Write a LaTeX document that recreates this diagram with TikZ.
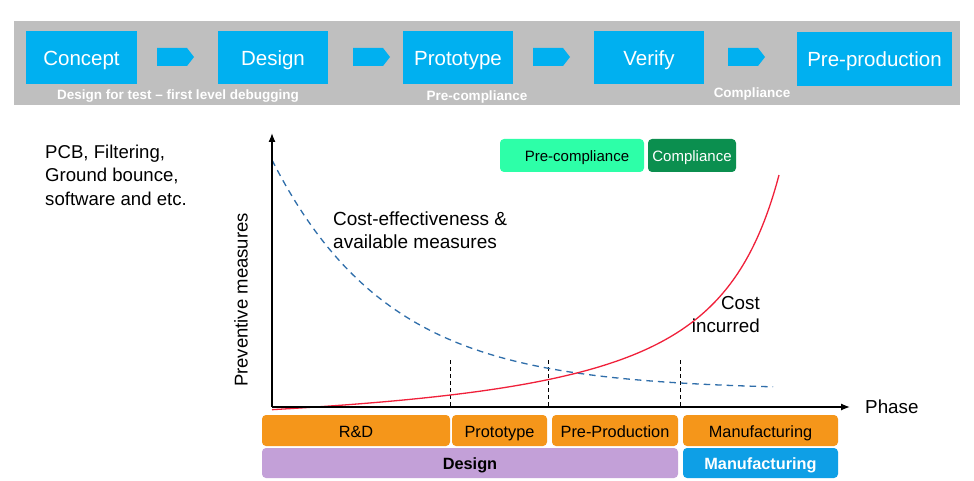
\documentclass[tikz,border=0pt]{standalone}
\usepackage{fontspec}
\setmainfont{Liberation Sans}
\usetikzlibrary{arrows.meta}
\definecolor{topblue}{HTML}{00B0F0}
\definecolor{bandgray}{HTML}{BFBFBF}
\definecolor{orangebox}{HTML}{F5961A}
\definecolor{purplebox}{HTML}{C3A0D8}
\definecolor{mfgblue}{HTML}{0E9FE6}
\definecolor{mint}{HTML}{2DFFA8}
\definecolor{darkgreen}{HTML}{0B8F4F}
\definecolor{costred}{HTML}{F0203A}
\definecolor{dashblue}{HTML}{2F6EAA}
\begin{document}
\begin{tikzpicture}[x=1pt,y=-1pt,
  lowtext/.style={text height=#1, text depth=0pt},
  topbox/.style={lowtext=16pt, fill=topblue, text=white, inner sep=0pt, minimum height=53pt, minimum width=110pt, font=\fontsize{20.5}{24}\selectfont},
  bandlabel/.style={lowtext=10.8pt, text=white, inner sep=0pt, font=\fontsize{13.5}{16}\selectfont\bfseries},
  phasebox/.style={lowtext=13pt, fill=orangebox, rounded corners=4pt, inner sep=0pt, minimum height=31pt, font=\fontsize{16.3}{19}\selectfont},
  groupbox/.style={lowtext=13pt, rounded corners=4pt, inner sep=0pt, minimum height=30pt, font=\fontsize{16.3}{19}\selectfont\bfseries},
  compbox/.style={lowtext=12pt, rounded corners=4pt, inner sep=0pt, minimum height=33pt, font=\fontsize{15}{18}\selectfont},
  charttext/.style={inner sep=0pt, font=\fontsize{18.8}{23}\selectfont},
  flowarrow/.style={fill=topblue},
  axis/.style={line width=1.3pt, -{Latex[length=9pt,width=7pt]}},
  phasemark/.style={line width=0.9pt, dash pattern=on 4pt off 3pt}
]
\useasboundingbox (0,0) rectangle (974,481);
\fill[white] (0,0) rectangle (974,481);

% top band
\fill[bandgray] (14,21) rectangle (960,105);
\node[topbox, minimum width=111pt] (concept) at (81.5,57.5) {Concept};
\node[topbox] (design) at (273,57.5) {Design};
\node[topbox] (proto) at (458,57.5) {Prototype};
\node[topbox] (verify) at (649,57.5) {Verify};
\node[topbox, minimum width=155pt, minimum height=54pt] (preprod) at (874.5,59) {Pre-production};

\foreach \xa in {157,353,533,728}{
  \fill[flowarrow] (\xa,48) -- ++(30,0) -- ++(7,9) -- ++(-7,9) -- ++(-30,0) -- cycle;
}

\node[bandlabel] (dft) at (178,94) {Design for test -- first level debugging};
\node[bandlabel] (precl) at (477,95) {Pre-compliance};
\node[bandlabel] (cl) at (752,92) {Compliance};

% left text
\node[inner sep=0pt, anchor=west, align=left, font=\fontsize{18.6}{23.5}\selectfont] (pcb) at (45,175) {PCB, Filtering,\\Ground bounce,\\software and etc.};

% chart
\coordinate (origin) at (272,407);
\coordinate (ytip) at (272,133);
\coordinate (xtip) at (850,407);

\draw[phasemark] (450,360) -- (450,407);
\draw[phasemark] (548,360) -- (548,407);
\draw[phasemark] (680,360) -- (680,407);

\draw[dashblue, line width=1.3pt, dash pattern=on 6.5pt off 5pt]
  plot[domain=272:773, samples=150, smooth] (\x, {390 - 230*exp(-0.00855*(\x-272))});
\draw[costred, line width=1.3pt]
  plot[domain=272:779, samples=200, smooth] (\x, {408 - 18.994*(1000/(850-\x) - 1.818)});

\draw[axis] (origin) -- (ytip);
\draw[axis] (origin) -- (xtip);

\node[charttext, anchor=west] (phase) at (865,407) {Phase};
\node[charttext, rotate=90, font=\fontsize{18.5}{22}\selectfont] (ylabel) at (241,300) {Preventive measures};
\node[charttext, anchor=west, align=left, font=\fontsize{19}{23}\selectfont] (cea) at (333,230.5) {Cost-effectiveness \&\\available measures};
\node[charttext, anchor=east, align=right] (ci) at (760,314.5) {Cost\\incurred};

% compliance boxes
\node[compbox, fill=mint, minimum width=144pt] (pcbox) at (572,155.5) {};
\node[lowtext=12pt, inner sep=0pt, font=\fontsize{15}{18}\selectfont] (pctext) at (577,155.5) {Pre-compliance};
\node[compbox, fill=darkgreen, text=white, minimum width=88pt] (cbox) at (692,155.5) {Compliance};

% bottom phases
\node[phasebox, minimum width=188pt] (rd) at (356,430.5) {R\&D};
\node[phasebox, minimum width=95pt] (pt) at (499.5,430.5) {Prototype};
\node[phasebox, minimum width=126pt] (pp) at (615,430.5) {Pre-Production};
\node[phasebox, minimum width=155pt] (mf) at (760.5,430.5) {Manufacturing};
\node[groupbox, fill=purplebox, minimum width=416pt] (dg) at (470,463) {Design};
\node[groupbox, fill=mfgblue, text=white, minimum width=155pt] (mg) at (760.5,463) {Manufacturing};
\end{tikzpicture}
\end{document}
